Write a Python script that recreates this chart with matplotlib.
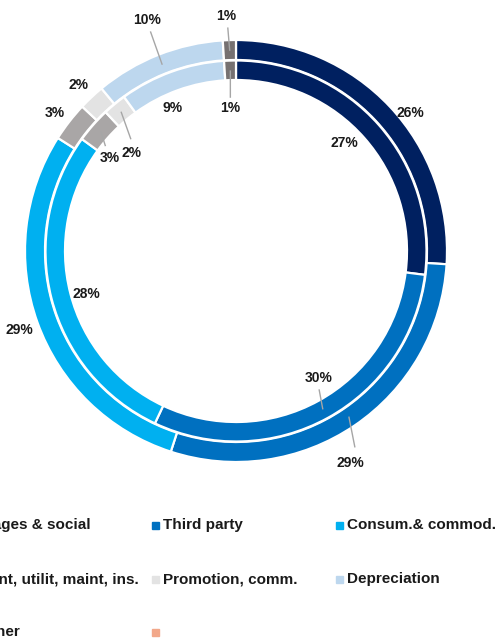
import numpy as np
import matplotlib.pyplot as plt
from matplotlib.patches import Rectangle

plt.rcParams['font.family'] = ['Liberation Sans', 'DejaVu Sans']

# data
categories = ["Wages & social", "Third party", "Consum.& commod.",
              "Rent, utilit, maint, ins.", "Promotion, comm.", "Depreciation", "Other"]
outer_vals = [26, 29, 29, 3, 2, 10, 1]
inner_vals = [27, 30, 28, 3, 2, 9, 1]
colors = ["#002060", "#0070C0", "#00B0F0", "#A9A6A6", "#E3E3E3", "#BDD7EE", "#767171"]
extra_color = "#F2A88A"  # unlabeled legend entry

# layout: label radius (px) and angle tweak (deg) per wedge, leader line flag
outer_lab = [(222, -4.8, False), (241, -5.9, True), (230, 0.2, False), (228, 0.5, False),
             (229, 0.4, False), (247, -0.6, True), (235, 0.6, True)]
inner_lab = [(153, 3.3, False), (151, 4.2, True), (156, 1.6, False), (157, 5.0, True),
             (143, 7.1, True), (157, 4.2, False), (143, 0.6, True)]

W, H = 496, 642
fig = plt.figure(figsize=(W / 100, H / 100), dpi=100)
ax = fig.add_axes([0, 0, 1, 1])
cx, cy = 236, H - 251

ax.pie(outer_vals, radius=211, center=(cx, cy), startangle=90, counterclock=False,
       colors=colors, wedgeprops=dict(width=20, edgecolor="white", linewidth=1.6))
ax.pie(inner_vals, radius=190.5, center=(cx, cy), startangle=90, counterclock=False,
       colors=colors, wedgeprops=dict(width=19.5, edgecolor="white", linewidth=1.6))
ax.set_xlim(0, W)
ax.set_ylim(0, H)
ax.set_aspect("equal")
ax.axis("off")


def pt(r, deg):
    a = np.deg2rad(deg)
    return cx + r * np.cos(a), cy + r * np.sin(a)


def add_labels(vals, layout, ring_r, outside):
    cum = np.cumsum([0] + vals)
    for i, v in enumerate(vals):
        mid = 90 - (cum[i] + v / 2) * 3.6
        r, dth, leader = layout[i]
        ang = mid + dth
        x, y = pt(r, ang)
        ax.text(x, y, f"{v}%", ha="center", va="center", fontsize=10,
                fontweight="bold", color="#1a1a1a")
        if leader:
            x0, y0 = pt(ring_r, mid)
            x1, y1 = pt(r - 12 if outside else r + 11, (mid + ang) / 2)
            ax.plot([x0, x1], [y0, y1], color="#A6A6A6", lw=1)


add_labels(outer_vals, outer_lab, 201, True)
add_labels(inner_vals, inner_lab, 180, False)

# legend drawn by hand (first column runs off the left edge)
col_x = [-29, 155, 339]
row_y = [525, 579, 632]
items = list(zip(categories, colors)) + [("", extra_color)]
for k, (lab, c) in enumerate(items):
    col, row = k % 3, k // 3
    mx, my = col_x[col], H - row_y[row]
    ax.add_patch(Rectangle((mx - 3.5, my - 3.5), 7, 7, color=c, clip_on=False))
    ax.text(mx + 8, my, lab, ha="left", va="center", fontsize=11,
            fontweight="bold", color="#1a1a1a")

fig.savefig("out.png", dpi=100)
